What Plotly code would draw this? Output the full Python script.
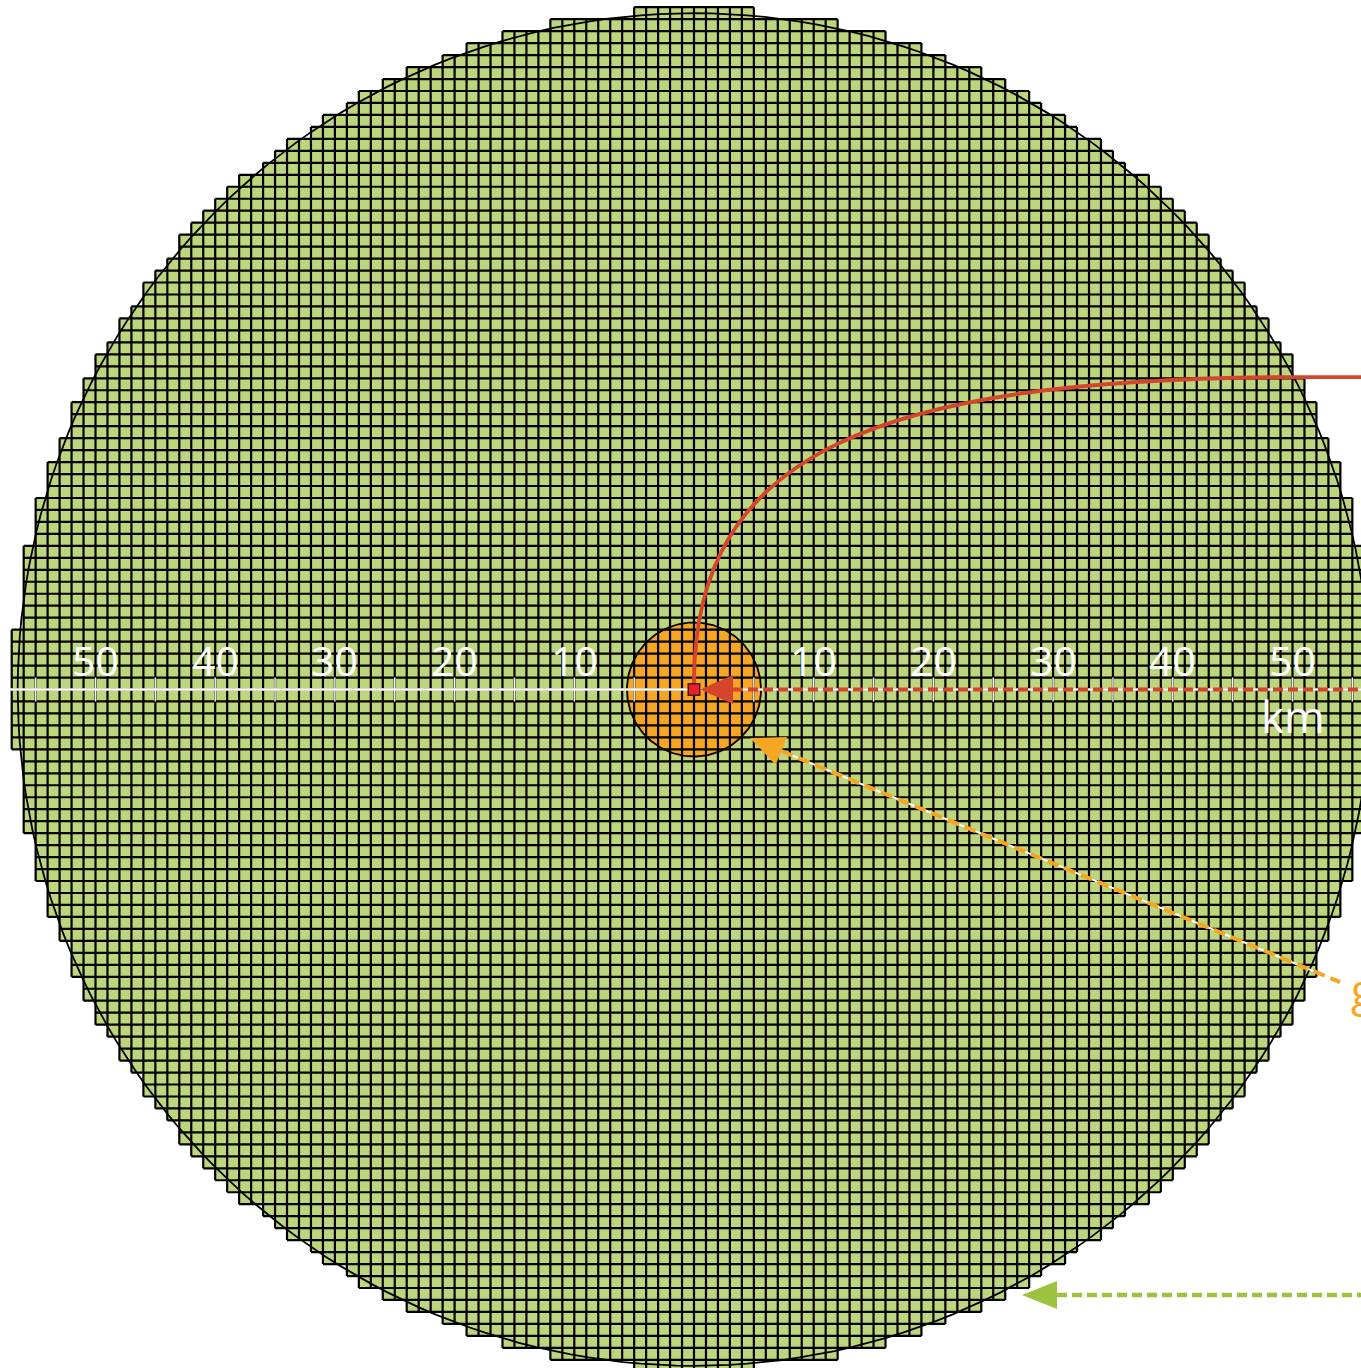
import numpy as np
import plotly.graph_objects as go

# ---------------- data ----------------
outer_radius_km = 56.5          # big circle (≈10 000 km²)
grid_radius_km = 56.7           # cells whose centre lies within this radius are drawn
inner_radius_km = 5.6           # orange circle (≈100 km²)
cell_km = 1.0                   # 1 km × 1 km cells

tick_values = [-55, -50, -45, -40, -35, -30, -25, -20, -15, -10, -5,
               5, 10, 15, 20, 25, 30, 35, 40, 45, 50, 55]
label_values = [-50, -40, -30, -20, -10, 10, 20, 30, 40, 50]
label_texts = ["50", "40", "30", "20", "10", "10", "20", "30", "40", "50"]
unit_text = "km"
orange_text = "g"

# ---------------- layout constants ----------------
W, H = 1361, 1368
S = 11.97                      # px per km
CX, CY = 694.0, 689.5          # centre in pixels
x_range = [-CX / S, (W - CX) / S]
y_range = [-(H - CY) / S, CY / S]

GREEN = "#BDD57D"
ORANGE = "#F6A623"
RED = "#D4452B"
GREEN_ARROW = "#9CC23F"

fig = go.Figure()

# ---------------- grid of cells ----------------
n = int(np.ceil(grid_radius_km)) + 1
rows = {}
for j in range(-n, n):
    idx = [i for i in range(-n, n)
           if (i + 0.5) ** 2 + (j + 0.5) ** 2 <= grid_radius_km ** 2]
    if idx:
        rows[j] = (min(idx), max(idx) + 1)
cols = {}
for i in range(-n, n):
    idx = [j for j in range(-n, n)
           if (i + 0.5) ** 2 + (j + 0.5) ** 2 <= grid_radius_km ** 2]
    if idx:
        cols[i] = (min(idx), max(idx) + 1)

# green fill (one rectangle per row)
fx, fy = [], []
for j, (a, b) in rows.items():
    fx += [a, b, b, a, a, None]
    fy += [j, j, j + 1, j + 1, j, None]
fig.add_trace(go.Scatter(x=fx, y=fy, mode="lines", fill="toself",
                         fillcolor=GREEN, line=dict(width=0), hoverinfo="skip"))

# orange disc
t = np.linspace(0, 2 * np.pi, 241)
fig.add_trace(go.Scatter(x=(inner_radius_km + 0.08) * np.cos(t),
                         y=(inner_radius_km + 0.08) * np.sin(t) - 0.03,
                         mode="lines", fill="toself", fillcolor=ORANGE,
                         line=dict(width=0), hoverinfo="skip"))

# grid lines
gx, gy = [], []
for k in range(-n, n + 1):
    spans = [rows[r] for r in (k - 1, k) if r in rows]
    if spans:
        a = min(s[0] for s in spans); b = max(s[1] for s in spans)
        gx += [a, b, None]; gy += [k, k, None]
    spans = [cols[c] for c in (k - 1, k) if c in cols]
    if spans:
        a = min(s[0] for s in spans); b = max(s[1] for s in spans)
        gx += [k, k, None]; gy += [a, b, None]
fig.add_trace(go.Scatter(x=gx, y=gy, mode="lines",
                         line=dict(color="black", width=2.2), hoverinfo="skip"))

# circle outlines
fig.add_trace(go.Scatter(x=outer_radius_km * np.cos(t), y=outer_radius_km * np.sin(t),
                         mode="lines", line=dict(color="black", width=1.8), hoverinfo="skip"))
fig.add_trace(go.Scatter(x=inner_radius_km * np.cos(t), y=inner_radius_km * np.sin(t),
                         mode="lines", line=dict(color="black", width=1.8), hoverinfo="skip"))

# white scale axis
fig.add_trace(go.Scatter(x=[x_range[0] + 0.85, x_range[1] + 1], y=[0, 0], mode="lines",
                         line=dict(color="white", width=2.5), hoverinfo="skip"))
tx, ty = [], []
for v in tick_values:
    tx += [v, v, None]; ty += [-1.0, 1.0, None]
fig.add_trace(go.Scatter(x=tx, y=ty, mode="lines",
                         line=dict(color="#F2F2F2", width=1.5), hoverinfo="skip"))

# red dashed arrow along the axis
red_tip = 0.5
red_len = 33 / S
red_hw = 14.5 / S
fig.add_trace(go.Scatter(x=[red_tip + red_len, x_range[1] + 1], y=[0, 0], mode="lines",
                         line=dict(color=RED, width=4, dash="10px,5px"), hoverinfo="skip"))

# orange dashed arrow
o_tip = np.array([4.68, -4.05])
o_end = np.array([53.97, -24.44])
d = (o_end - o_tip) / np.linalg.norm(o_end - o_tip)
pn = np.array([-d[1], d[0]])
o_len, o_hw = 34 / S, 15 / S
o_base = o_tip + d * o_len
fig.add_trace(go.Scatter(x=[o_base[0], o_end[0]], y=[o_base[1], o_end[1]], mode="lines",
                         line=dict(color="white", width=2), hoverinfo="skip"))
fig.add_trace(go.Scatter(x=[o_base[0], o_end[0]], y=[o_base[1], o_end[1]], mode="lines",
                         line=dict(color=ORANGE, width=4, dash="12px,6px"), hoverinfo="skip"))

# green dashed arrow
g_y = -50.58
g_tip = 27.40
g_len, g_hw = 35 / S, 14 / S
fig.add_trace(go.Scatter(x=[g_tip + g_len, x_range[1] + 1], y=[g_y, g_y], mode="lines",
                         line=dict(color=GREEN_ARROW, width=4.5, dash="10px,5px"),
                         hoverinfo="skip"))


def tri(tip, base_c, perp, hw):
    p1 = base_c + perp * hw
    p2 = base_c - perp * hw
    return f"M {tip[0]} {tip[1]} L {p1[0]} {p1[1]} L {p2[0]} {p2[1]} Z"


shapes = []
# red curve
P0 = (0.0, 0.55); P1 = (0.0, 20.0); P2 = (15.5, 25.9); P3 = (49.8, 26.1)
shapes.append(dict(type="path", xref="x", yref="y", layer="above",
                   path=f"M {P0[0]} {P0[1]} C {P1[0]} {P1[1]} {P2[0]} {P2[1]} {P3[0]} {P3[1]} L {x_range[1] + 2} {P3[1]}",
                   line=dict(color=RED, width=3.8)))
# arrowheads
shapes.append(dict(type="path", xref="x", yref="y", layer="above",
                   path=tri(np.array([red_tip, 0.0]), np.array([red_tip + red_len, 0.0]),
                            np.array([0.0, 1.0]), red_hw),
                   fillcolor=RED, line=dict(width=0)))
shapes.append(dict(type="path", xref="x", yref="y", layer="above",
                   path=tri(o_tip, o_base, pn, o_hw),
                   fillcolor=ORANGE, line=dict(width=0)))
shapes.append(dict(type="path", xref="x", yref="y", layer="above",
                   path=tri(np.array([g_tip, g_y]), np.array([g_tip + g_len, g_y]),
                            np.array([0.0, 1.0]), g_hw),
                   fillcolor=GREEN_ARROW, line=dict(width=0)))
# red square at centre
shapes.append(dict(type="rect", xref="x", yref="y", layer="above",
                   x0=-0.48, x1=0.48, y0=-0.48, y1=0.48,
                   fillcolor="#E8202A", line=dict(color="#4A1A10", width=1.5)))

annotations = []
for v, s in zip(label_values, label_texts):
    annotations.append(dict(x=v, y=2.5, xref="x", yref="y", text=s, showarrow=False,
                            xanchor="center", yanchor="middle",
                            font=dict(family="Open Sans", size=41, color="white")))
annotations.append(dict(x=50, y=-2.2, xref="x", yref="y", text=unit_text, showarrow=False,
                        xanchor="center", yanchor="middle",
                        font=dict(family="Open Sans", size=44, color="white")))
annotations.append(dict(x=54.7, y=-25.0, xref="x", yref="y", text=orange_text, showarrow=False,
                        xanchor="left", yanchor="middle",
                        font=dict(family="Open Sans", size=44, color=ORANGE)))

fig.update_layout(
    width=W, height=H,
    margin=dict(l=0, r=0, t=0, b=0),
    paper_bgcolor="white", plot_bgcolor="white",
    showlegend=False,
    xaxis=dict(range=x_range, visible=False, fixedrange=True),
    yaxis=dict(range=y_range, visible=False, fixedrange=True),
    shapes=shapes, annotations=annotations,
)

fig.write_html("out.html", config={"displayModeBar": False},
               post_script="document.body.style.margin='0';document.body.style.overflow='hidden';")
